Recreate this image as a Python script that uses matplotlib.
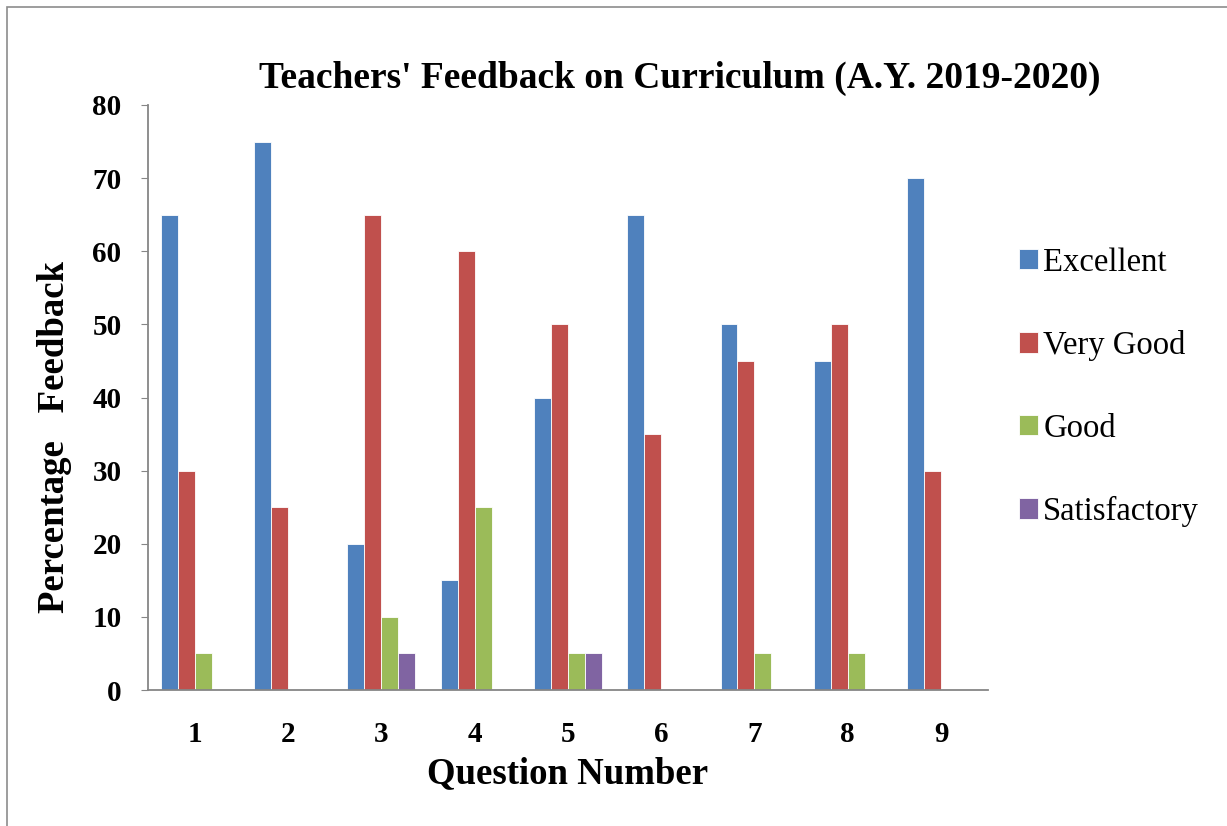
import numpy as np
import matplotlib.pyplot as plt
from matplotlib.patches import Rectangle

questions = ['1', '2', '3', '4', '5', '6', '7', '8', '9']
excellent = [65, 75, 20, 15, 40, 65, 50, 45, 70]
very_good = [30, 25, 65, 60, 50, 35, 45, 50, 30]
good = [5, 0, 10, 25, 5, 0, 5, 5, 0]
satisfactory = [0, 0, 5, 0, 5, 0, 0, 0, 0]

series = [('Excellent', excellent, '#4F81BD'),
          ('Very Good', very_good, '#C0504D'),
          ('Good', good, '#9BBB59'),
          ('Satisfactory', satisfactory, '#8064A2')]

plt.rcParams['font.family'] = ['Liberation Serif', 'DejaVu Serif']

fig = plt.figure(figsize=(12.27, 8.26), dpi=100)
ax = fig.add_axes([0.1206, 0.1646, 0.6844, 0.7083])

# outer frame like the original screenshot
fig.patches.append(Rectangle((0.006, -0.01), 1.1, 1.0015, transform=fig.transFigure,
                             fill=False, edgecolor='#8c8c8c', linewidth=1.2))

x = np.arange(len(questions))
w = 0.182
for i, (name, vals, col) in enumerate(series):
    ax.bar(x + (i - 1.5) * w, vals, w, color=col, label=name, edgecolor='white', linewidth=0.6)

ax.set_xlim(-0.5, len(questions) - 0.5)
ax.set_ylim(0, 80)
ax.set_yticks(range(0, 81, 10))
ax.set_xticks(x)
ax.set_xticklabels(questions)
for lab in ax.get_xticklabels() + ax.get_yticklabels():
    lab.set_fontweight('bold')
    lab.set_fontsize(21)
ax.tick_params(axis='x', length=0, pad=22)
ax.tick_params(axis='y', length=5, color='#868686', direction='out', pad=14)

for s in ['top', 'right']:
    ax.spines[s].set_visible(False)
for s in ['left', 'bottom']:
    ax.spines[s].set_color('#868686')
    ax.spines[s].set_linewidth(1.3)

fig.text(680 / 1227, 1 - 78 / 826, "Teachers' Feedback on Curriculum (A.Y. 2019-2020)",
         fontsize=27, fontweight='bold', ha='center', va='center')
ax.set_xlabel('Question Number', fontsize=26.5, fontweight='bold', labelpad=6)
ax.set_ylabel('Percentage   Feedback', fontsize=26.5, fontweight='bold')
ax.yaxis.set_label_coords(-0.090, 0.432)

ax.legend(loc='center left', bbox_to_anchor=(1.037, 0.518), frameon=False, fontsize=23.5,
          borderpad=0, borderaxespad=0,
          handlelength=0.6, handleheight=0.6, handletextpad=0.15, labelspacing=1.6)

fig.savefig('out.png', dpi=100)
